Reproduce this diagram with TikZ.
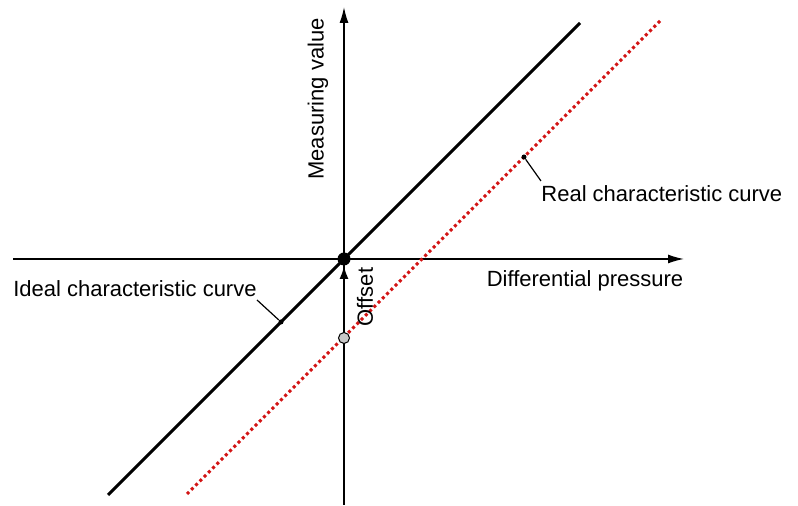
\documentclass[tikz,border=0pt]{standalone}
\usepackage{fontspec}
\setmainfont{Liberation Sans}
\usepackage{tikz}
\usetikzlibrary{arrows.meta}
\definecolor{realred}{RGB}{210,20,20}
\definecolor{dotgray}{RGB}{200,200,200}
\tikzset{
  axis/.style={-{Latex[length=8pt,width=4.5pt]},line width=0.75pt},
  ideal/.style={black,line width=1.5pt},
  real/.style={realred,line width=1.5pt,dash pattern=on 1.5pt off 1.5pt},
  flow/.style={-{Latex[length=6.5pt,width=4.5pt]},line width=1pt},
  leader/.style={black,line width=0.6pt},
  origindot/.style={circle,fill=black,inner sep=0pt,minimum size=6.5pt},
  offsetdot/.style={circle,draw=black,fill=dotgray,line width=0.5pt,inner sep=0pt,minimum size=5.5pt},
  marker/.style={circle,fill=black,inner sep=0pt,minimum size=2.5pt},
  lab/.style={font=\fontsize{11}{13}\selectfont,inner sep=1pt},
}
\begin{document}
\begin{tikzpicture}[x=0.5pt,y=-0.5pt]
  \path[use as bounding box] (0,0) rectangle (798,506);

  % axes
  \coordinate (xstart) at (13,259);
  \coordinate (xend) at (684,259);
  \coordinate (ystart) at (344,505);
  \coordinate (yend) at (344,7);
  \draw[axis] (xstart) -- (xend);
  \draw[axis] (ystart) -- (yend);
  \node[lab,rotate=90] (ylab) at (318,99) {Measuring value};
  \node[lab] (xlab) at (585,281) {Differential pressure};

  % characteristic curves
  \coordinate (ideallow) at (108,495);
  \coordinate (idealhigh) at (580,23);
  \coordinate (reallow) at (187,494);
  \coordinate (realhigh) at (660,21);
  \draw[real] (reallow) -- (realhigh);
  \draw[ideal] (ideallow) -- (idealhigh);

  % offset
  \node[origindot] (origin) at (344,259) {};
  \node[offsetdot] (offpt) at (344,338) {};
  \draw[flow] (offpt) -- (origin);
  \node[lab,rotate=90] (offlab) at (365,297) {Offset};

  % labels with leaders
  \node[marker] (idealpt) at (281,322) {};
  \coordinate (idealtip) at (257,300);
  \draw[leader] (idealpt) -- (idealtip);
  \node[lab,anchor=east] (ideallab) at (259,289) {Ideal characteristic curve};

  \node[marker] (realpt) at (524,157) {};
  \coordinate (realtip) at (541,181);
  \draw[leader] (realpt) -- (realtip);
  \node[lab,anchor=west] (reallab) at (539,194) {Real characteristic curve};
\end{tikzpicture}
\end{document}
